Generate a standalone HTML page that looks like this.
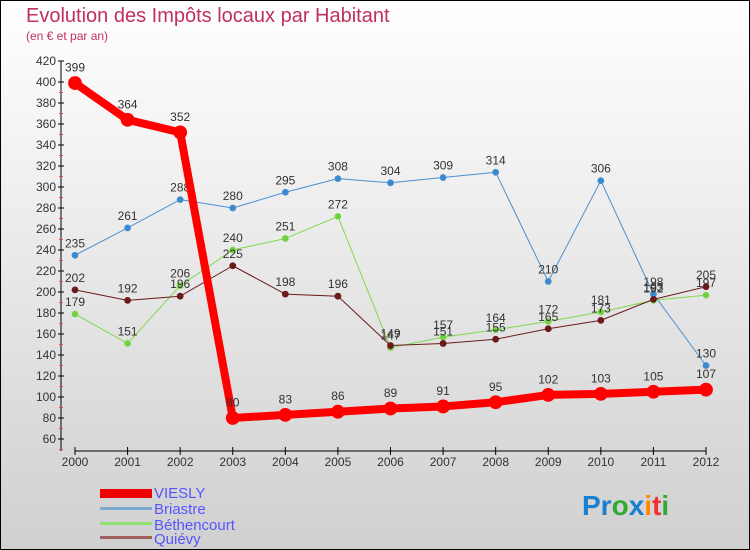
<!DOCTYPE html>
<html><head><meta charset="utf-8"><style>
body{margin:0}
#c{width:750px;height:550px;position:relative;box-sizing:border-box;border:1px solid #000;background:linear-gradient(#fff,#d0d0d0);font-family:"Liberation Sans",sans-serif;overflow:hidden}
</style></head><body>
<div id="c">
<svg id="s" width="750" height="550" style="position:absolute;left:-1px;top:-1px">
<text x="26" y="22" font-size="20" fill="#c0305a">Evolution des Impôts locaux par Habitant</text>
<text x="26" y="40" font-size="12" fill="#c0305a">(en € et par an)</text>
<g id="axes"></g><g id="series"></g>
<g font-size="15" fill="#5555ff">
<rect x="100" y="489" width="52" height="9" fill="#e00"/>
<text x="154" y="498">VIESLY</text>
<rect x="100" y="507" width="52" height="3" fill="#7aaad0"/>
<text x="154" y="514">Briastre</text>
<rect x="100" y="522" width="52" height="3" fill="#90e070"/>
<text x="154" y="530">Béthencourt</text>
<rect x="100" y="536" width="52" height="3" fill="#a06060"/>
<text x="154" y="544">Quiévy</text>
</g>
<g font-size="28" font-weight="bold">
<text x="582" y="515"><tspan fill="#1a7fd0">Pr</tspan><tspan fill="#3a3">o</tspan><tspan fill="#1a7fd0">x</tspan><tspan fill="#f80">i</tspan><tspan fill="#e33">t</tspan><tspan fill="#3a3">i</tspan></text>
</g>
</svg>
</div>
<script>
const years=[2000,2001,2002,2003,2004,2005,2006,2007,2008,2009,2010,2011,2012];
const yTicks=[60,80,100,120,140,160,180,200,220,240,260,280,300,320,340,360,380,400,420];
const viesly=[399,364,352,80,83,86,89,91,95,102,103,105,107];
const briastre=[235,261,288,280,295,308,304,309,314,210,306,198,130];
const bethencourt=[179,151,206,240,251,272,147,157,164,172,181,192,197];
const quievy=[202,192,196,225,198,196,149,151,155,165,173,193,205];
const NS="http://www.w3.org/2000/svg";
const xs=i=>75+i*(706-75)/12;
const ys=v=>439-(v-60)*(439-61)/360;
function mk(t,a,p){const e=document.createElementNS(NS,t);for(const k in a)e.setAttribute(k,a[k]);p.appendChild(e);return e;}
const ax=document.getElementById('axes');
let e=mk('line',{x1:61,y1:61,x2:61,y2:451,stroke:'#000'},ax);


e=mk('line',{x1:75,y1:451,x2:706,y2:451,stroke:'#000'},ax);


yTicks.forEach(v=>{const y=ys(v);
 mk('line',{x1:58,y1:y,x2:64,y2:y,stroke:'#000'},ax);
 mk('line',{x1:59,y1:y+10.5,x2:63,y2:y+10.5,stroke:v<420?'#e44':'none'},ax);
 const t=mk('text',{x:56,y:y+4,'font-size':12,'text-anchor':'end',fill:'#333'},ax);t.textContent=v;
 
 });
years.forEach((yr,i)=>{const x=xs(i);
 mk('line',{x1:x,y1:447,x2:x,y2:455,stroke:'#000'},ax);
 const t=mk('text',{x:x,y:466,'font-size':12,'text-anchor':'middle',fill:'#333'},ax);t.textContent=yr;
 
 });
const sg=document.getElementById('series');
function series(d,color,w,r,name,fill){
 const g=mk('g',{},sg);
 
 
 mk('polyline',{points:d.map((v,i)=>xs(i)+','+ys(v)).join(' '),fill:'none',stroke:color,'stroke-width':w,'stroke-linejoin':'round'},g);
 d.forEach((v,i)=>{const c=mk('circle',{cx:xs(i),cy:ys(v),r:r,fill:fill,stroke:color,'stroke-width':0.8},g);
  
  
  const t=mk('text',{x:xs(i),y:ys(v)-r-5,'font-size':12,'text-anchor':'middle',fill:'#333'},g);t.textContent=v;
  
  });
}
series(briastre,'#4a90d0',1,3,'briastre','#3a8ad0');
series(bethencourt,'#80d850',1,3,'bethencourt','#70d040');
series(quievy,'#6a1a1a',1,3,'quievy','#6a1a1a');
series(viesly,'#f00',8,6.5,'viesly','#f00');
</script>
</body></html>
